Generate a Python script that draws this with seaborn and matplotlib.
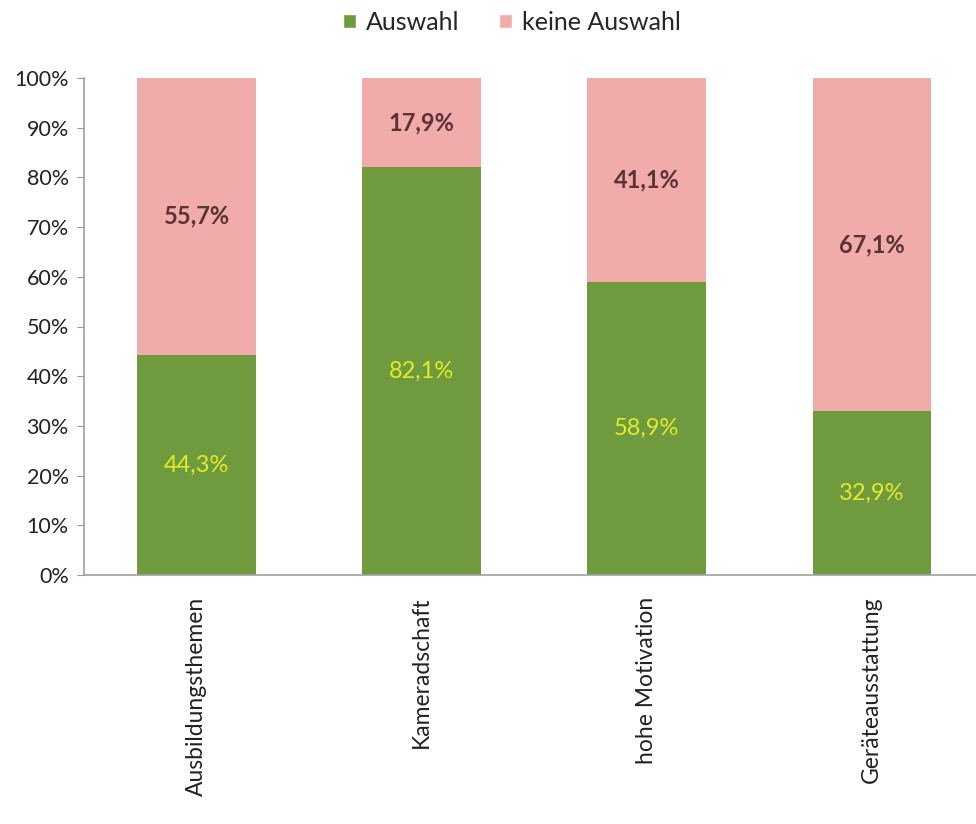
import matplotlib
matplotlib.use("Agg")
import matplotlib.pyplot as plt
import seaborn as sns
import pandas as pd
from matplotlib.patches import Patch

categories = ["Ausbildungsthemen", "Kameradschaft", "hohe Motivation", "Geräteausstattung"]
auswahl = [44.3, 82.1, 58.9, 32.9]
keine_auswahl = [55.7, 17.9, 41.1, 67.1]

GREEN = "#6f9a3e"
PINK = "#f2abab"

sns.set_style("white")
plt.rcParams["font.family"] = ["Lato", "DejaVu Sans"]

df = pd.DataFrame({"cat": categories, "auswahl": auswahl, "keine": keine_auswahl})
df["total"] = df["auswahl"] + df["keine"]

fig = plt.figure(figsize=(9.76, 8.24), dpi=100)
ax = fig.add_axes([84 / 976, (824 - 575) / 824, (976 - 84) / 976, 497 / 824])

sns.barplot(data=df, x="cat", y="total", color=PINK, width=0.525, saturation=1,
            linewidth=0, ax=ax)
sns.barplot(data=df, x="cat", y="auswahl", color=GREEN, width=0.525, saturation=1,
            linewidth=0, ax=ax)

for i, (a, k) in enumerate(zip(auswahl, keine_auswahl)):
    ax.text(i, a / 2, f"{a:.1f}%".replace(".", ","), ha="center", va="center",
            color="#e4ea2c", fontsize=17)
    ax.text(i, a + k / 2, f"{k:.1f}%".replace(".", ","), ha="center", va="center",
            color="#5a3434", fontsize=17, fontweight="bold")

ax.set_xlim(-0.5, 3.464)
ax.set_ylim(0, 100)
ax.set_yticks(range(0, 101, 10))
ax.set_yticklabels([f"{v}%" for v in range(0, 101, 10)], fontsize=15.5, color="#222222")
ax.set_xticks(range(len(categories)))
ax.set_xticklabels(categories, rotation=90, fontsize=16.5, color="#222222")
ax.set_xlabel("")
ax.set_ylabel("")
ax.tick_params(axis="y", left=True, length=5, color="#999999", pad=6)
ax.tick_params(axis="x", bottom=False, pad=12)

for s in ["top", "right"]:
    ax.spines[s].set_visible(False)
for s in ["left", "bottom"]:
    ax.spines[s].set_color("#a0a0a0")
    ax.spines[s].set_linewidth(1.2)

handles = [Patch(facecolor=GREEN, label="Auswahl"), Patch(facecolor=PINK, label="keine Auswahl")]
fig.legend(handles=handles, loc="center", bbox_to_anchor=(512 / 976, 1 - 22 / 824), ncol=2,
           frameon=False, fontsize=18, handlelength=0.5, handleheight=0.5,
           handletextpad=0.4, columnspacing=1.6)

fig.savefig("out.png", dpi=100)
